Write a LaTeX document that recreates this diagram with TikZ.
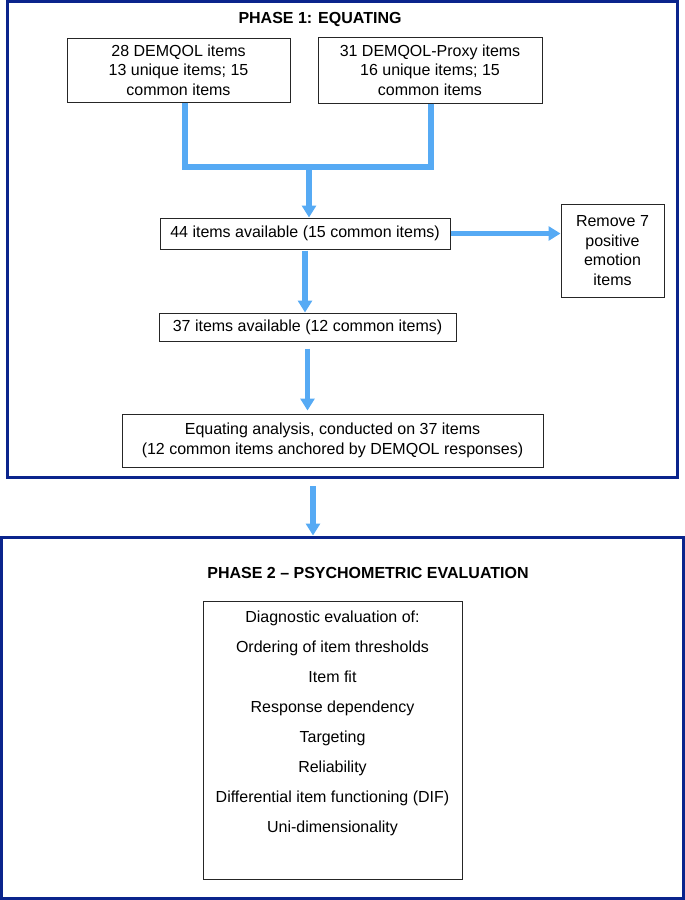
\documentclass[tikz,border=0pt]{standalone}
\usepackage{fontspec}
\setmainfont{Liberation Sans}
\usetikzlibrary{positioning,arrows.meta,calc}
\definecolor{flowblue}{RGB}{86,170,244}
\definecolor{framenavy}{RGB}{10,36,140}
\tikzset{
>={Triangle[length=12pt,width=14pt]},
  itembox/.style={
    rectangle,
    draw=black!85, line width=1pt,
    align=center,
    inner sep=2pt,
    font=\fontsize{16}{19.5}\selectfont},
  phaseframe/.style={rectangle, draw=framenavy, line width=3pt, inner sep=0pt},
  phasetitle/.style={font=\bfseries\fontsize{16}{19}\selectfont},
  flow/.style={draw=flowblue, line width=5.5pt},
  flowarrow/.style={flow, ->},
}

\begin{document}
\begin{tikzpicture}[x=1pt,y=-1pt]
    \useasboundingbox (0,0) rectangle (685,900);

    % the two phases
    \node[phaseframe, minimum width=670pt, minimum height=475.5pt](phase1) at (342,239.25){};
    \node[phaseframe, minimum width=682pt, minimum height=361pt](phase2) at (342.5,717.5){};
    \node[phasetitle](title1) at (320,19){PHASE 1: EQUATING};
    \node[phasetitle](title2) at (368,573){PHASE 2 -- PSYCHOMETRIC EVALUATION};

    \node[itembox, minimum width=223pt, minimum height=64pt](dem) at (178.5,70){28 DEMQOL items\\13 unique items; 15\\common items};
    \node[itembox, minimum width=224pt, minimum height=66pt, right=27pt of dem](proxy){31 DEMQOL-Proxy items\\16 unique items; 15\\common items};
    \node[itembox, minimum width=290pt, minimum height=31pt](avail44) at (305,233.5){44 items available (15 common items)};
    \node[itembox, minimum width=103pt, minimum height=93pt](remove) at (612.5,250.5){Remove 7\\positive\\emotion\\items};
    \node[itembox, minimum width=297pt, minimum height=28pt](avail37) at (307.5,327){37 items available (12 common items)};
    \node[itembox, minimum width=421pt, minimum height=53pt](equate) at (332.5,440.5){Equating analysis, conducted on 37 items\\
                                                                                      (12 common items anchored by DEMQOL responses)};
    \node[itembox, inner sep=10pt](diag) at (332.5,740){\parbox[c][258pt][t]{239pt}{\centering\fontsize{16}{30}\selectfont
        Diagnostic evaluation of:\\Ordering of item thresholds\\Item fit\\Response dependency\\
        Targeting\\Reliability\\Differential item functioning (DIF)\\Uni-dimensionality}};

    \coordinate (junc) at (309,167);
    \draw[flow] ([xshift=6.5pt]dem.south) |- (junc);
    \draw[flow] ([xshift=1pt]proxy.south) |- (junc);
    \draw[flowarrow] (junc) -- (junc |- avail44.north);
    \draw[flowarrow] (avail44.east) -- (avail44.east -| remove.west);
    \draw[flowarrow, shorten <=1pt] (avail44.south) -- (avail44.south |- avail37.north);
    \draw[flowarrow, shorten <=7pt, shorten >=3pt] (avail37.south) -- (avail37.south |- equate.north);
    \draw[flowarrow, shorten <=7.5pt] ([xshift=-29pt]phase1.south) -- ([xshift=-29pt]phase1.south |- phase2.north);

\end{tikzpicture}
\end{document}
